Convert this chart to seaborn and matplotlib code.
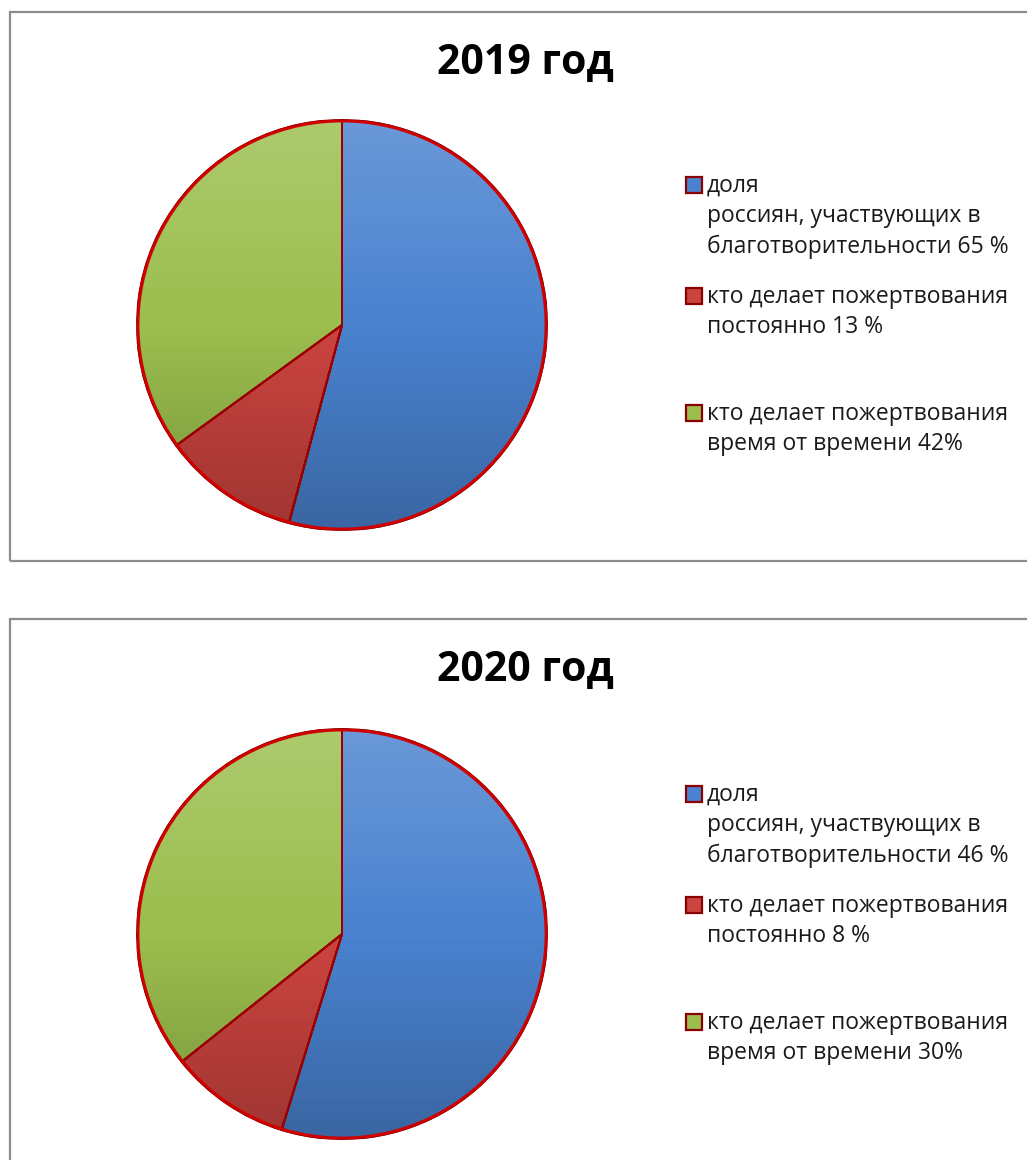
"""
Pie charts: share of Russians participating in charity, 2019 vs 2020.
"""

import matplotlib.pyplot as plt
import matplotlib.patches as mpatches
import numpy as np
import seaborn as sns

# ========== Data ==========

years = ["2019 год", "2020 год"]

participating = [65, 46]
regular_donors = [13, 8]
occasional_donors = [42, 30]

legend_labels = [
    [
        "доля\nроссиян, участвующих в\nблаготворительности 65 %",
        "кто делает пожертвования\nпостоянно 13 %",
        "кто делает пожертвования\nвремя от времени 42%",
    ],
    [
        "доля\nроссиян, участвующих в\nблаготворительности 46 %",
        "кто делает пожертвования\nпостоянно 8 %",
        "кто делает пожертвования\nвремя от времени 30%",
    ],
]

slice_colors = ["#4a82cf", "#cc4440", "#9bbe4e"]

# ========== Figure ==========

sns.set_theme(style="white")
plt.rcParams["font.family"] = ["Open Sans", "DejaVu Sans"]

W, H = 1027, 1160
fig = plt.figure(figsize=(W / 100, H / 100), dpi=100)


def px_box(x0, y0, w, h):
    """Convert pixel box (top-left origin) to figure fraction rect."""
    return [x0 / W, 1 - (y0 + h) / H, w / W, h / H]


# panel frames (right edge runs off the canvas)
panels = [(10, 12, 1040, 549), (10, 619, 1040, 560)]
for x0, y0, w, h in panels:
    fig.patches.append(
        mpatches.Rectangle(
            (x0 / W, 1 - (y0 + h) / H), w / W, h / H,
            transform=fig.transFigure, fill=False,
            edgecolor="#8c8c8c", linewidth=1.6, zorder=0,
        )
    )

pie_centers = [(342, 325), (342, 934)]
title_y = [63, 670]
legend_line_y = [[185, 296, 413], [794, 905, 1022]]
R = 205

# vertical shading overlay: light at top, dark at bottom
grad = np.zeros((256, 1, 4))
t = np.linspace(0, 1, 256)
grad[:, 0, :3] = np.where(t[:, None] < 0.5, 1.0, 0.0)
grad[:, 0, 3] = np.where(t < 0.5, 0.18 * (0.5 - t) * 2, 0.22 * (t - 0.5) * 2)

for i in range(2):
    cx, cy = pie_centers[i]
    ax = fig.add_axes(px_box(cx - R, cy - R, 2 * R, 2 * R))
    values = [participating[i], regular_donors[i], occasional_donors[i]]
    wedges, _ = ax.pie(
        values,
        colors=slice_colors,
        startangle=90,
        counterclock=False,
        radius=1,
        wedgeprops={"edgecolor": "#9a0000", "linewidth": 1.4},
    )
    ax.set_xlim(-1.0, 1.0)
    ax.set_ylim(-1.0, 1.0)
    ax.set_aspect("equal")
    ax.axis("off")

    rim = mpatches.Circle((0, 0), 1, transform=ax.transData)
    img = ax.imshow(grad, extent=(-1, 1, -1, 1), aspect="auto", zorder=3,
                    interpolation="bilinear")
    img.set_clip_path(rim)
    for wdg in wedges:
        ax.add_patch(mpatches.Wedge(wdg.center, wdg.r, wdg.theta1, wdg.theta2,
                                    fill=False, edgecolor="#9a0000",
                                    linewidth=1.4, zorder=4))
    ax.add_patch(mpatches.Circle((0, 0), 0.995, fill=False, edgecolor="#d00000",
                                 linewidth=2.0, zorder=5))

    fig.text(525 / W, 1 - title_y[i] / H, years[i], ha="center", va="center",
             fontsize=29.5, fontweight="bold", color="black")

    # legend: marker square + wrapped label
    for k in range(3):
        ly = legend_line_y[i][k]
        fig.patches.append(
            mpatches.Rectangle(
                (686 / W, 1 - (ly + 8) / H), 16 / W, 16 / H,
                transform=fig.transFigure, facecolor=slice_colors[k],
                edgecolor="#8b0000", linewidth=1.6,
            )
        )
        fig.text(707 / W, 1 - (ly - 11) / H, legend_labels[i][k],
                 ha="left", va="top", fontsize=16.5, color="#1a1a1a",
                 linespacing=1.36)

fig.savefig("out.png", dpi=100)
print("Saved to out.png")
